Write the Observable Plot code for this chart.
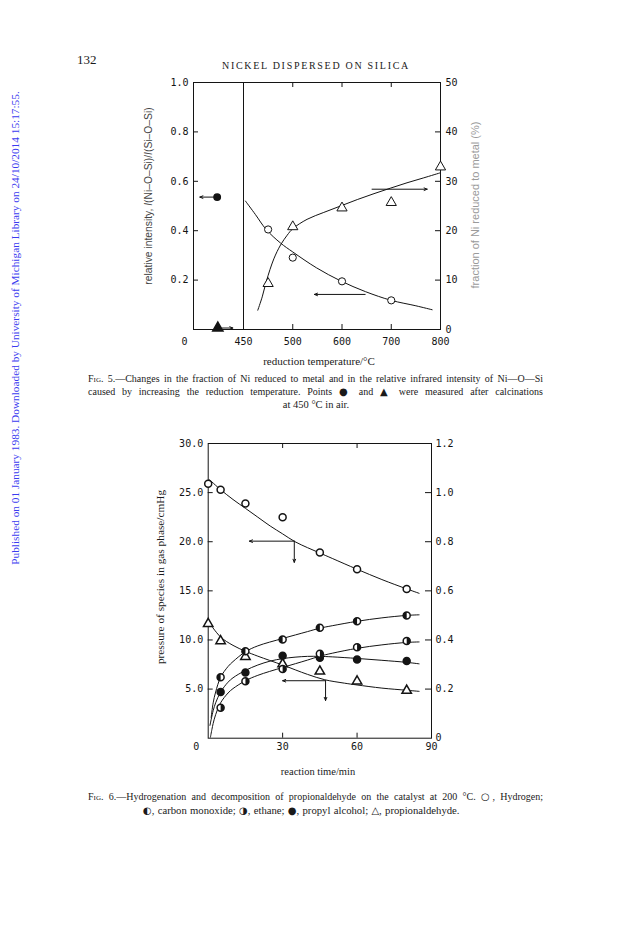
<!DOCTYPE html>
<html>
<head>
<meta charset="utf-8">
<script src="https://cdn.jsdelivr.net/npm/d3@7"></script>
<script src="https://cdn.jsdelivr.net/npm/@observablehq/plot@0.6"></script>
<style>
html, body { margin: 0; padding: 0; background: #fff; }
#page { position: relative; width: 624px; height: 935px; overflow: hidden; background: #fff;
  font-family: "Liberation Serif", "Times New Roman", serif; color: #1a1a1a; }
.abs { position: absolute; white-space: nowrap; }
.rot { transform: translate(-50%, -50%) rotate(-90deg); }
.ctr { transform: translate(-50%, -50%); }
.cap { position: absolute; left: 88px; width: 455px; font-size: 10px; line-height: 12px;
  text-align: justify; text-align-last: justify; white-space: nowrap; }
.sc { font-variant: small-caps; }
.sym { font-family: "DejaVu Sans", sans-serif; font-size: 10px; }
.fig { position: absolute; }
</style>
</head>
<body>
<div id="page">
  <div class="abs" style="left:77px; top:52px; font-size:13px;">132</div>
  <div class="abs ctr" style="left:316px; top:65px; font-size:10px; letter-spacing:1.7px;">NICKEL DISPERSED ON SILICA</div>

  <div class="abs rot" style="left:15px; top:328px; font-size:11.3px; color:#3b3bf0;">Published on 01 January 1983. Downloaded by University of Michigan Library on 24/10/2014 15:17:55.</div>

  <div id="fig5" class="fig" style="left:130px; top:60px;"></div>
  <div class="abs rot" style="left:148px; top:196px; font-family:'Liberation Sans', Arial, sans-serif; font-size:10.3px; color:#444;">relative intensity, <i>I</i>(Ni–O–Si)/<i>I</i>(Si–O–Si)</div>
  <div class="abs rot" style="left:475px; top:205px; font-family:'Liberation Sans', Arial, sans-serif; font-size:11px; color:#9a9a9a;">fraction of Ni reduced to metal (%)</div>
  <div class="abs ctr" style="left:319px; top:361px; font-size:11px;">reduction temperature/°C</div>

  <div class="cap" style="top:373px;"><span class="sc">Fig.</span> 5.—Changes in the fraction of Ni reduced to metal and in the relative infrared intensity of Ni—O—Si</div>
  <div class="cap" style="top:386px;">caused by increasing the reduction temperature. Points <span class="sym">●</span> and <span class="sym">▲</span> were measured after calcinations</div>
  <div class="abs ctr" style="left:316px; top:404px; font-size:10.5px;">at 450 °C in air.</div>

  <div id="fig6" class="fig" style="left:130px; top:420px;"></div>
  <div class="abs rot" style="left:160px; top:577px; font-size:11.3px;">pressure of species in gas phase/cmHg</div>
  <div class="abs ctr" style="left:318px; top:771px; font-size:10.5px;">reaction time/min</div>

  <div class="cap" style="top:791px;"><span class="sc">Fig.</span> 6.—Hydrogenation and decomposition of propionaldehyde on the catalyst at 200 °C. <span class="sym">○</span>, Hydrogen;</div>
  <div class="abs" style="left:143px; top:804px; font-size:10.7px; line-height:12px; word-spacing:0.6px;"><span class="sym">◐</span>, carbon monoxide; <span class="sym">◑</span>, ethane; <span class="sym">●</span>, propyl alcohol; <span class="sym">△</span>, propionaldehyde.</div>
</div>

<script>
// ---------------- Fig. 5 data ----------------
const tempTicks = [450, 500, 600, 700, 800];          // bottom axis labels (°C)
const tempBreak = 450;                                 // broken-axis line
const intensityTicks = [0.2, 0.4, 0.6, 0.8, 1.0];      // left axis
const fractionTicks = [0, 10, 20, 30, 40, 50];         // right axis (%)

const intensityTemps = [475, 500, 600, 700];
const intensityValues = [0.405, 0.291, 0.195, 0.118];
const fractionTemps = [475, 500, 600, 700, 800];
const fractionValues = [9.3, 20.8, 24.6, 25.7, 32.9];

const intensityCurve = [[452, 0.52], [462, 0.466], [473, 0.405], [487.6, 0.35], [500, 0.314],
  [548, 0.25], [597, 0.197], [648, 0.153], [700, 0.118], [750, 0.096], [783, 0.08]];
const fractionCurve = [[464.5, 3.9], [469, 6.6], [473.4, 9.9], [480.8, 14.3], [487.6, 17.1],
  [494.4, 19.1], [500, 20.4], [529, 22.3], [563, 23.7], [597, 25.0], [631, 26.3], [665, 27.5],
  [698, 28.6], [732, 29.7], [766, 30.7], [799, 31.7]];

const calcinedIntensity = [{temp: 213, value: 0.536}];   // ● after calcination
const calcinedFraction = [{temp: 219, pct: 0.3}];        // ▲ after calcination

const arrowsLeft5 = [ // in left-axis units
  {x1: 647, y1: 0.142, x2: 544, y2: 0.142},
  {x1: 185, y1: 0.536, x2: 57, y2: 0.536}
];
const arrowsRight5 = [ // in right-axis units (%)
  {x1: 661, y1: 28.4, x2: 773, y2: 28.4},
  {x1: 258, y1: 0.3, x2: 354, y2: 0.3}
];

// ---------------- Fig. 6 data ----------------
const timeTicks = [30, 60, 90];
const pressureTicks = [5, 10, 15, 20, 25, 30];
const rightTicks6 = [0, 0.2, 0.4, 0.6, 0.8, 1.0, 1.2];

const h2Pts = [[0, 25.9], [5, 25.3], [15, 23.9], [30, 22.5], [45, 18.9], [60, 17.2], [80, 15.2]];
const coPts = [[5, 6.2], [15, 8.85], [30, 10.05], [45, 11.25], [60, 11.9], [80, 12.5]];
const ethanePts = [[5, 3.1], [15, 5.8], [30, 7.05], [45, 8.6], [60, 9.25], [80, 9.9]];
const propylPts = [[5, 4.7], [15, 6.7], [30, 8.4], [45, 8.2], [60, 8.0], [80, 7.85]];
const aldehydePts = [[0, 11.65], [5, 9.9], [15, 8.3], [30, 7.55], [45, 6.8], [60, 5.8], [80, 4.85]];

const h2Curve = [[0.6, 26.3], [5, 25.3], [10, 24.3], [15, 23.4], [20, 22.5], [25, 21.6], [30, 20.8],
  [35, 20.0], [40, 19.4], [45, 18.85], [50, 18.3], [60, 17.2], [70, 16.15], [80, 15.2], [85, 14.75]];
const coCurve = [[1.2, 2.1], [2, 3.6], [3, 4.7], [5, 6.2], [8, 7.3], [10, 7.8], [15, 8.8], [20, 9.4],
  [30, 10.15], [40, 10.85], [45, 11.2], [50, 11.45], [60, 11.9], [70, 12.25], [80, 12.5], [85, 12.56]];
const propylCurve = [[0.7, 1.3], [2, 2.8], [3, 3.6], [5, 4.7], [8, 5.7], [10, 6.15], [15, 6.9],
  [20, 7.45], [25, 7.85], [30, 8.1], [35, 8.25], [40, 8.33], [45, 8.33], [50, 8.28], [60, 8.12],
  [70, 7.93], [80, 7.72], [85, 7.57]];
const ethaneCurve = [[0.9, 0.1], [1.5, 0.9], [2, 1.5], [3, 2.4], [5, 3.6], [8, 4.6], [10, 5.05],
  [15, 5.85], [20, 6.4], [30, 7.2], [40, 7.95], [45, 8.35], [50, 8.65], [60, 9.15], [70, 9.5],
  [80, 9.75], [85, 9.8]];
const aldehydeCurve = [[0, 11.9], [5, 10.3], [10, 9.45], [15, 8.85], [20, 8.35], [30, 7.45],
  [40, 6.5], [47, 5.95], [55, 5.6], [60, 5.42], [70, 5.1], [80, 4.88], [85, 4.77]];

const arrows6 = [
  {x1: 34.7, y1: 20.06, x2: 16.6, y2: 20.06},
  {x1: 34.7, y1: 20.06, x2: 34.7, y2: 17.9},
  {x1: 47.3, y1: 5.85, x2: 30, y2: 5.85},
  {x1: 47.3, y1: 5.85, x2: 47.3, y2: 3.84}
];

// ---------------- shared styling ----------------
const ink = "#141414";
const monoStyle = {fontFamily: "'DejaVu Sans Mono', monospace", fontSize: "10px", color: ink,
  background: "transparent", overflow: "visible"};
const halfLeft = {draw(ctx, size) { const r = Math.sqrt(size / Math.PI);
  ctx.moveTo(0, -r); ctx.arc(0, 0, r, -Math.PI / 2, Math.PI / 2, true); ctx.closePath(); }};
const halfRight = {draw(ctx, size) { const r = Math.sqrt(size / Math.PI);
  ctx.moveTo(0, -r); ctx.arc(0, 0, r, -Math.PI / 2, Math.PI / 2, false); ctx.closePath(); }};

// ---------------- Fig. 5 ----------------
const W5 = 360, H5 = 300, ML5 = 63, MR5 = 50, MT5 = 22, MB5 = 31;
const xr = W5 - MR5;
const fig5 = Plot.plot({
  width: W5, height: H5, marginLeft: ML5, marginRight: MR5, marginTop: MT5, marginBottom: MB5,
  style: monoStyle,
  x: {type: "linear", domain: [0, 450, 500, 800], range: [ML5, ML5 + 50, ML5 + 99.25, xr], axis: null},
  y: {domain: [0, 1], axis: null},
  marks: [
    Plot.frame({stroke: ink}),
    Plot.ruleX([tempBreak], {stroke: ink}),
    Plot.ruleX(tempTicks.filter(t => t > tempBreak && t < 800), {y1: 0, y2: 0, insetTop: -5, stroke: ink}),
    Plot.ruleX(tempTicks.filter(t => t > tempBreak && t < 800), {y1: 1, y2: 1, insetBottom: -5, stroke: ink}),
    Plot.ruleY(intensityTicks.filter(v => v < 1), {x1: 0, x2: 0, insetRight: -5, stroke: ink}),
    Plot.ruleY(fractionTicks.filter(v => v > 0 && v < 50).map(v => v / 50), {x1: 800, x2: 800, insetLeft: -5, stroke: ink}),
    Plot.axisX(tempTicks, {tickSize: 0, tickPadding: 8, tickFormat: d => String(d), label: null}),
    Plot.axisY(intensityTicks, {anchor: "left", tickSize: 0, tickPadding: 5, tickFormat: d => d.toFixed(1), label: null}),
    Plot.axisY(fractionTicks.map(v => v / 50), {anchor: "right", tickSize: 0, tickPadding: 5,
      tickFormat: d => String(Math.round(d * 50)), label: null}),
    Plot.text([{x: 0, y: 0, label: "0"}], {x: "x", y: "y", text: "label", dx: -9, dy: 12}),
    Plot.line(intensityCurve, {x: d => d[0], y: d => d[1], curve: "catmull-rom", stroke: ink, strokeWidth: 1}),
    Plot.line(fractionCurve, {x: d => d[0], y: d => d[1] / 50, curve: "catmull-rom", stroke: ink, strokeWidth: 1}),
    Plot.arrow(arrowsLeft5, {x1: "x1", y1: "y1", x2: "x2", y2: "y2", stroke: ink, strokeWidth: 1, headLength: 5, headAngle: 45}),
    Plot.arrow(arrowsRight5, {x1: "x1", y1: d => d.y1 / 50, x2: "x2", y2: d => d.y2 / 50, stroke: ink, strokeWidth: 1, headLength: 5, headAngle: 45}),
    Plot.dot(intensityTemps.map((t, i) => ({t, v: intensityValues[i]})), {x: "t", y: "v", r: 3.6, fill: "white", stroke: ink, strokeWidth: 1}),
    Plot.dot(fractionTemps.map((t, i) => ({t, v: fractionValues[i]})), {x: "t", y: d => d.v / 50, r: 3.8, symbol: "triangle", fill: "white", stroke: ink, strokeWidth: 1}),
    Plot.dot(calcinedIntensity, {x: "temp", y: "value", r: 3.2, fill: ink, stroke: ink}),
    Plot.dot(calcinedFraction, {x: "temp", y: d => d.pct / 50, r: 3.8, symbol: "triangle", fill: ink, stroke: ink})
  ]
});
document.getElementById("fig5").appendChild(fig5);

// ---------------- Fig. 6 ----------------
const W6 = 360, H6 = 340, ML6 = 77.7, MR6 = 59, MT6 = 23, MB6 = 22.3;
const pts = arr => arr.map(([t, p]) => ({t, p}));
const fig6 = Plot.plot({
  width: W6, height: H6, marginLeft: ML6, marginRight: MR6, marginTop: MT6, marginBottom: MB6,
  style: monoStyle,
  x: {domain: [0, 90], axis: null},
  y: {domain: [0, 30], axis: null},
  marks: [
    Plot.frame({stroke: ink}),
    Plot.ruleX(timeTicks.filter(t => t < 90), {y1: 0, y2: 0, insetTop: -5, stroke: ink}),
    Plot.ruleX(timeTicks.filter(t => t < 90), {y1: 30, y2: 30, insetBottom: -5, stroke: ink}),
    Plot.ruleY(pressureTicks.filter(v => v < 30), {x1: 0, x2: 0, insetRight: -5, stroke: ink}),
    Plot.ruleY(rightTicks6.filter(v => v > 0 && v < 1.2).map(v => v * 25), {x1: 90, x2: 90, insetLeft: -6, stroke: ink}),
    Plot.axisX(timeTicks, {tickSize: 0, tickPadding: 5, tickFormat: d => String(d), label: null}),
    Plot.axisY(pressureTicks, {anchor: "left", tickSize: 0, tickPadding: 5, tickFormat: d => d.toFixed(1), label: null}),
    Plot.axisY(rightTicks6.map(v => v * 25), {anchor: "right", tickSize: 0, tickPadding: 4,
      tickFormat: d => d === 0 ? "0" : (d / 25).toFixed(1), label: null}),
    Plot.text([{x: 0, y: 0, label: "0"}], {x: "x", y: "y", text: "label", dx: -12, dy: 9}),
    ...[h2Curve, coCurve, propylCurve, ethaneCurve, aldehydeCurve].map(c =>
      Plot.line(c, {x: d => d[0], y: d => d[1], curve: "catmull-rom", stroke: ink, strokeWidth: 1})),
    Plot.arrow(arrows6, {x1: "x1", y1: "y1", x2: "x2", y2: "y2", stroke: ink, strokeWidth: 1, headLength: 5, headAngle: 45}),
    Plot.dot(pts(h2Pts), {x: "t", y: "p", r: 3.5, fill: "white", stroke: ink}),
    Plot.dot(pts(aldehydePts), {x: "t", y: "p", r: 3.5, symbol: "triangle", fill: "white", stroke: ink}),
    Plot.dot(pts(propylPts), {x: "t", y: "p", r: 3.5, fill: ink, stroke: ink}),
    Plot.dot(pts(coPts), {x: "t", y: "p", r: 3.5, fill: "white", stroke: ink}),
    Plot.dot(pts(coPts), {x: "t", y: "p", r: 3.5, symbol: halfLeft, fill: ink, stroke: "none"}),
    Plot.dot(pts(ethanePts), {x: "t", y: "p", r: 3.5, fill: "white", stroke: ink}),
    Plot.dot(pts(ethanePts), {x: "t", y: "p", r: 3.5, symbol: halfRight, fill: ink, stroke: "none"})
  ]
});
document.getElementById("fig6").appendChild(fig6);
</script>
</body>
</html>
